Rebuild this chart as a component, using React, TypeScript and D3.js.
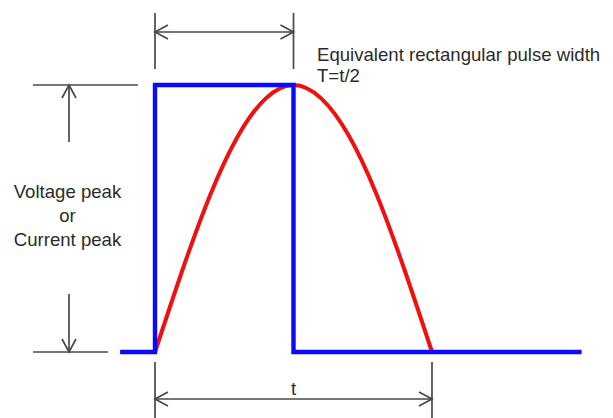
import React from 'react';
import * as d3 from 'd3';

// pulse shape, time in units of t, level in units of peak
const pulseTime = [-0.126, 0, 0, 0.5, 0.5, 1.54];
const pulseLevel = [0, 0, 1, 1, 0, 0];

// half-sine pulse
const waveTime = [0, 0.1, 0.2, 0.3, 0.4, 0.5, 0.6, 0.7, 0.8, 0.9, 1];
const waveLevel = [0, 0.31, 0.59, 0.81, 0.95, 1, 0.95, 0.81, 0.59, 0.31, 0];

// dimension spans
const widthSpan = [0, 0.5]; // T = t/2
const fullSpan = [0, 1]; // t
const peakSpan = [0, 1];

const labelLines = ['Voltage peak', 'or', 'Current peak'];
const noteLines = ['Equivalent rectangular pulse width', 'T=t/2'];

const W = 613;
const H = 418;
const GRAY = '#484848';
const TEXT = '#2b2b2b';
const FONT = '"Liberation Sans", Arial, sans-serif';

const x = d3.scaleLinear().domain([0, 1]).range([155, 432]);
const y = d3.scaleLinear().domain([0, 1]).range([352, 85]);

// open chevron arrowhead, tip at (tx,ty), pointing in direction (dx,dy)
function chevron(tx: number, ty: number, dx: number, dy: number) {
  const len = 13, half = 7;
  const px = -dy, py = dx;
  const bx = tx - dx * len, by = ty - dy * len;
  return `M${bx + px * half},${by + py * half}L${tx},${ty}L${bx - px * half},${by - py * half}`;
}

export default function App() {
  const pulse = d3.line<number>()
    .x((_, i) => x(pulseTime[i]))
    .y((d) => y(d))
    .curve(d3.curveLinear)(pulseLevel);

  const wave = d3.line<number>()
    .x((_, i) => x(waveTime[i]))
    .y((d) => y(d))
    .curve(d3.curveNatural)(waveLevel);

  const topY = 32;
  const botY = 399;
  const leftX = 69;

  return (
    <div style={{ position: 'fixed', left: 0, top: 0 }}>
      <svg width={W} height={H} style={{ display: 'block', background: '#fff' }}>
        {/* top dimension: T */}
        <g stroke={GRAY} strokeWidth={1.7} fill="none">
          {widthSpan.map((t, i) => (
            <line key={'te' + i} x1={x(t)} x2={x(t)} y1={13} y2={69} />
          ))}
          <line x1={x(widthSpan[0])} x2={x(widthSpan[1])} y1={topY} y2={topY} />
          <path d={chevron(x(widthSpan[0]), topY, -1, 0)} />
          <path d={chevron(x(widthSpan[1]), topY, 1, 0)} />
        </g>

        {/* bottom dimension: t */}
        <g stroke={GRAY} strokeWidth={1.7} fill="none">
          {fullSpan.map((t, i) => (
            <line key={'be' + i} x1={x(t)} x2={x(t)} y1={362} y2={H} />
          ))}
          <line x1={x(fullSpan[0])} x2={x(fullSpan[1])} y1={botY} y2={botY} />
          <path d={chevron(x(fullSpan[0]), botY, -1, 0)} />
          <path d={chevron(x(fullSpan[1]), botY, 1, 0)} />
        </g>

        {/* left dimension: peak */}
        <g stroke={GRAY} strokeWidth={1.7} fill="none">
          <line x1={33} x2={138} y1={y(peakSpan[1])} y2={y(peakSpan[1])} />
          <line x1={33} x2={108} y1={y(peakSpan[0])} y2={y(peakSpan[0])} />
          <line x1={leftX} x2={leftX} y1={y(peakSpan[1])} y2={142} />
          <line x1={leftX} x2={leftX} y1={294} y2={y(peakSpan[0])} />
          <path d={chevron(leftX, y(peakSpan[1]), 0, -1)} />
          <path d={chevron(leftX, y(peakSpan[0]), 0, 1)} />
        </g>

        {/* red half-sine */}
        <path d={wave ?? ''} fill="none" stroke="#f01010" strokeWidth={4} strokeLinejoin="round" />
        {/* blue rectangular pulse */}
        <path d={pulse ?? ''} fill="none" stroke="#0a0aff" strokeWidth={4.4} strokeLinejoin="miter" />

        {/* texts */}
        <g fontFamily={FONT} fill={TEXT} fontSize={18.6}>
          {labelLines.map((s, i) => (
            <text key={s} x={67.5} y={198 + i * 24} textAnchor="middle">{s}</text>
          ))}
          {noteLines.map((s, i) => (
            <text key={s} x={317} y={61 + i * 21}>{s}</text>
          ))}
          <text x={x(0.5)} y={395} textAnchor="middle">t</text>
        </g>
      </svg>
    </div>
  );
}
